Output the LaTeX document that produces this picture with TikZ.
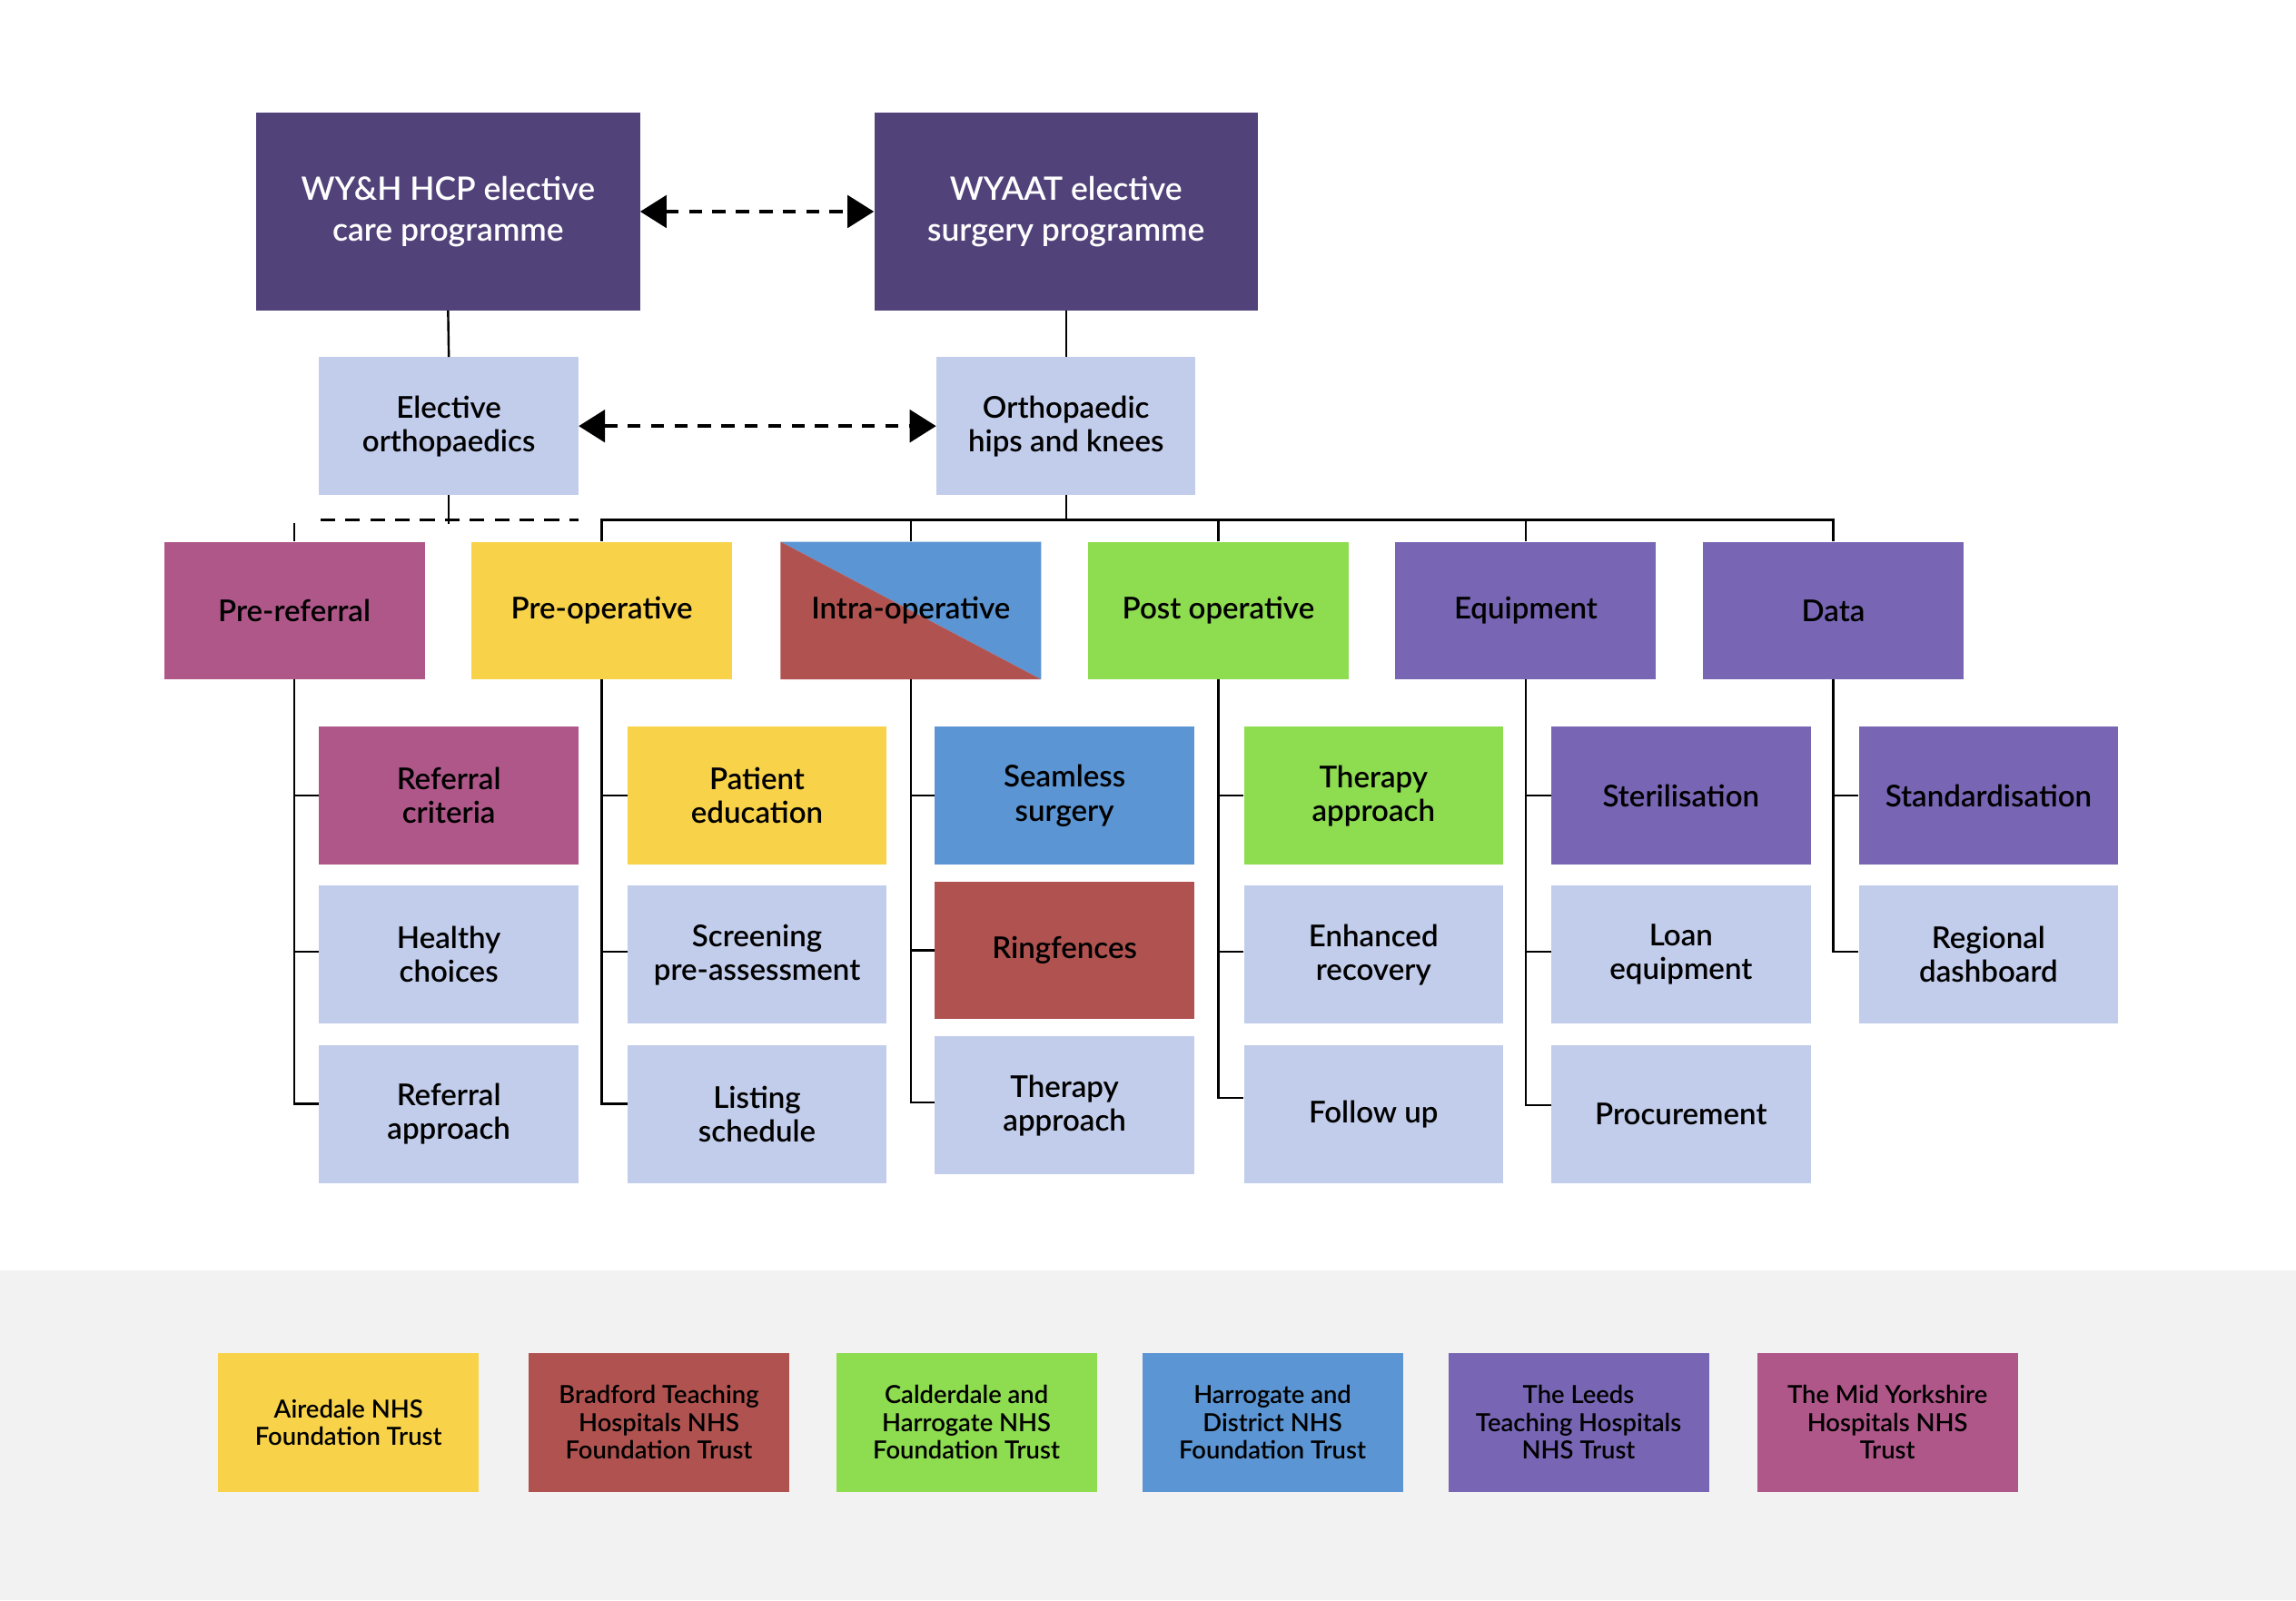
\documentclass[tikz,border=0pt]{standalone}
\usepackage{fontspec}
\setmainfont{Lato Semibold}
\usetikzlibrary{arrows.meta}
\definecolor{dpurple}{HTML}{51427A}
\definecolor{lblue}{HTML}{C2CDEB}
\definecolor{cmag}{HTML}{B0578A}
\definecolor{cyel}{HTML}{F8D34A}
\definecolor{cblue}{HTML}{5B95D3}
\definecolor{cred}{HTML}{B05350}
\definecolor{cgreen}{HTML}{8EDC50}
\definecolor{cpurp}{HTML}{7866B5}
\definecolor{band}{HTML}{F2F2F2}
\begin{document}
\begin{tikzpicture}[x=1pt,y=-1pt,
  topbox/.style={rectangle, inner sep=0pt, align=center, fill=dpurple, text=white,
    minimum width=262pt, minimum height=135pt, font=\fontsize{22}{28}\selectfont},
  box/.style={rectangle, inner sep=0pt, align=center, minimum width=177pt,
    minimum height=94pt, font=\fontsize{20.5}{23}\selectfont},
  catbox/.style={box, minimum width=178pt},
  trustbox/.style={rectangle, inner sep=0pt, align=center, minimum width=178pt,
    minimum height=95pt, font=\fontsize{17}{19}\selectfont},
  conn/.style={line width=1.5pt},
  busline/.style={line width=2pt},
  dasharrow/.style={line width=2.5pt, dash pattern=on 9pt off 7pt,
    {Triangle[length=18pt,width=22pt]}-{Triangle[length=18pt,width=22pt]}},
  dashbus/.style={line width=2pt, dash pattern=on 10pt off 7pt}]
\useasboundingbox (0,0) rectangle (1568,1093);
\fill[white] (0,0) rectangle (1568,1093);
\fill[band] (0,868) rectangle (1568,1093);

% top level
\node[topbox] (t1) at (306,144.5) {WY\&H HCP elective\\care programme};
\node[topbox] (t2) at (728,144.5) {WYAAT elective\\surgery programme};
\node[box, fill=lblue] (m1) at (306.5,291) {Elective\\orthopaedics};
\node[box, fill=lblue] (m2) at (728,291) {Orthopaedic\\hips and knees};

\draw[dasharrow] (t1.east) -- (t2.west);
\draw[dasharrow] (m1.east) -- (m2.west);
\draw[conn] (t1.south) -- (m1.north);
\draw[conn] (t2.south) -- (m2.north);

% categories
\node[catbox, fill=cmag] (c1) at (201,417) {Pre-referral};
\node[catbox, fill=cyel] (c2) at (411,417) {Pre-operative};
\node[catbox, path picture={
  \fill[cblue] (path picture bounding box.north west) -- (path picture bounding box.north east) -- (path picture bounding box.south east) -- cycle;
  \fill[cred] (path picture bounding box.north west) -- (path picture bounding box.south east) -- (path picture bounding box.south west) -- cycle;}]
  (c3) at (622,417) {Intra-operative};
\node[catbox, fill=cgreen] (c4) at (832,417) {Post operative};
\node[catbox, fill=cpurp] (c5) at (1042,417) {Equipment};
\node[catbox, fill=cpurp] (c6) at (1252,417) {Data};

\coordinate (bus) at (0,355);
\draw[conn] (m2.south) -- (m2.south |- bus);
\draw[busline] (c2.north) -- (c2.north |- bus) -- (c6.north |- bus) -- (c6.north);
\draw[conn] (c3.north) -- (c3.north |- bus);
\draw[conn] (c4.north) -- (c4.north |- bus);
\draw[conn] (c5.north) -- (c5.north |- bus);
\draw[conn] (m1.south) -- ([yshift=-3pt]m1.south |- bus);
\draw[dashbus] ([xshift=1pt]m1.south west |- bus) -- (m1.south east |- bus);
\draw[conn] (c1.north) -- ([yshift=-2pt]c1.north |- bus);

% children
\node[box, fill=cmag] (a1) at (306.5,543.5) {Referral\\criteria};
\node[box, fill=lblue] (a2) at (306.5,652) {Healthy\\choices};
\node[box, fill=lblue] (a3) at (306.5,761) {Referral\\approach};

\node[box, fill=cyel] (b1) at (517,543.5) {Patient\\education};
\node[box, fill=lblue] (b2) at (517,652) {Screening\\pre-assessment};
\node[box, fill=lblue] (b3) at (517,761) {Listing\\schedule};

\node[box, fill=cblue] (d1) at (727,543.5) {Seamless\\surgery};
\node[box, fill=cred] (d2) at (727,649) {Ringfences};
\node[box, fill=lblue] (d3) at (727,755) {Therapy\\approach};

\node[box, fill=cgreen] (e1) at (938,543.5) {Therapy\\approach};
\node[box, fill=lblue] (e2) at (938,652) {Enhanced\\recovery};
\node[box, fill=lblue] (e3) at (938,761) {Follow up};

\node[box, fill=cpurp] (f1) at (1148,543.5) {Sterilisation};
\node[box, fill=lblue] (f2) at (1148,652) {Loan\\equipment};
\node[box, fill=lblue] (f3) at (1148,761) {Procurement};

\node[box, fill=cpurp] (g1) at (1358,543.5) {Standardisation};
\node[box, fill=lblue] (g2) at (1358,652) {Regional\\dashboard};

\foreach \p/\c/\s in {c1/a1/0,c1/a2/2,c1/a3/7,c2/b1/0,c2/b2/2,c2/b3/7,c3/d1/0,c3/d2/0,c3/d3/2,
                   c4/e1/0,c4/e2/2,c4/e3/11,c5/f1/0,c5/f2/2,c5/f3/6,c6/g1/0,c6/g2/2}
  \draw[conn] (\p.south) |- ([yshift=\s pt]\c.west);

% trusts
\node[trustbox, fill=cyel] (r1) at (238,971.5) {Airedale NHS\\Foundation Trust};
\node[trustbox, fill=cred] (r2) at (450,971.5) {Bradford Teaching\\Hospitals NHS\\Foundation Trust};
\node[trustbox, fill=cgreen] (r3) at (660,971.5) {Calderdale and\\Harrogate NHS\\Foundation Trust};
\node[trustbox, fill=cblue] (r4) at (869,971.5) {Harrogate and\\District NHS\\Foundation Trust};
\node[trustbox, fill=cpurp] (r5) at (1078,971.5) {The Leeds\\Teaching Hospitals\\NHS Trust};
\node[trustbox, fill=cmag] (r6) at (1289,971.5) {The Mid Yorkshire\\Hospitals NHS\\Trust};
\end{tikzpicture}
\end{document}
